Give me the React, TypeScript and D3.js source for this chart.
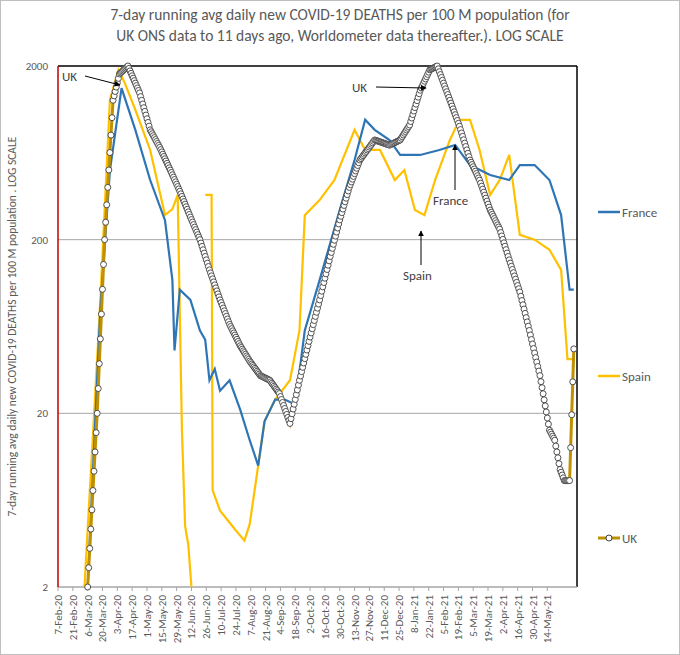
import * as d3 from "d3";

const startDate = new Date(2020, 1, 7);

// [day offset from 7-Feb-20, deaths per 100M]
const uk: [number, number][] = [
  [28, 2], [37, 20], [44, 200], [52, 1270], [58, 1800], [66, 2000], [77, 1400], [87, 858],
  [96, 680], [106, 503], [115, 380], [125, 270], [134, 200], [143, 134], [153, 90], [162, 65],
  [172, 49], [181, 40], [191, 33], [200, 31], [209, 26], [219, 17.5], [228, 31], [238, 55],
  [247, 90], [257, 160], [266, 260], [275, 400], [285, 575], [299, 750], [313, 700], [323, 750],
  [332, 915], [342, 1450], [351, 1900], [358, 2000], [370, 1270], [379, 900], [389, 575],
  [398, 440], [408, 296], [417, 230], [426, 153], [436, 100], [445, 60], [455, 33], [464, 16],
  [469, 14], [474, 9.5], [478, 8.2], [483, 8.2], [487, 47],
];

const france: [number, number][] = [
  [28, 2], [40, 80], [49, 500], [60, 1490], [73, 858], [87, 441], [101, 259], [108, 117],
  [110, 46], [115, 103], [125, 90], [134, 60], [139, 53], [143, 31], [148, 36], [153, 27],
  [162, 31], [172, 21], [181, 14], [189, 10], [195, 18], [205, 24], [214, 24], [224, 22.5],
  [233, 60], [247, 117], [266, 296], [280, 575], [290, 980], [299, 858], [313, 750], [323, 615],
  [342, 615], [360, 657], [375, 702], [389, 538], [408, 471], [426, 441], [436, 538], [450, 538],
  [464, 441], [475, 277], [483, 103], [487, 103],
];

const spain: [number, number | null][] = [
  [25, 2], [35, 25], [40, 90], [49, 1270], [57, 1900], [63, 1600], [73, 1120], [87, 657],
  [101, 277], [108, 300], [113, 362], [117, 16], [120, 4.5], [123, 3.5], [126, 2], [130, null],
  [139, 362], [145, 362], [146, 7.2], [153, 5.5], [167, 4.3], [176, 3.7], [181, 4.6], [189, 10],
  [195, 18], [205, 24], [219, 31], [228, 60], [233, 277], [247, 338], [261, 441], [280, 858],
  [290, 657], [304, 657], [318, 441], [327, 503], [337, 296], [346, 277], [356, 441], [370, 750],
  [379, 980], [389, 980], [398, 657], [408, 362], [417, 441], [426, 615], [436, 213], [450, 200],
  [464, 175], [475, 134], [481, 41], [487, 41],
];

const yTicks = [2, 20, 200, 2000];
const tickDays = d3.range(0, 463, 14);

const W = 680, H = 655;
const left = 58, right = 577, top = 66, bottom = 587;
const grey = "#595959";

export default function App() {
  const end = d3.timeDay.offset(startDate, 490);
  const x = d3.scaleTime().domain([startDate, end]).range([left, right]);
  const y = d3.scaleLog().domain([2, 2000]).range([bottom, top]).clamp(true);
  const X = (d: number) => x(d3.timeDay.offset(startDate, d));
  const fmt = d3.timeFormat("%-d-%b-%y");

  const line = d3.line<[number, number | null]>()
    .defined((d) => d[1] !== null)
    .x((d) => X(d[0]))
    .y((d) => y(d[1] as number));

  const ukPath = line(uk) || "";
  // one marker per day along the drawn UK line (visual only)
  const ukMarkers: [number, number][] = [];
  for (let i = 0; i < uk.length - 1; i++) {
    const [d0, v0] = uk[i];
    const [d1, v1] = uk[i + 1];
    const y0 = y(v0), y1 = y(v1);
    for (let d = d0; d < d1; d++) {
      const t = (d - d0) / (d1 - d0);
      ukMarkers.push([X(d), y0 + (y1 - y0) * t]);
    }
  }
  const last = uk[uk.length - 1];
  ukMarkers.push([X(last[0]), y(last[1])]);

  const legend = [
    { name: "France", y: 212, color: "#2E75B6" },
    { name: "Spain", y: 376, color: "#FFC000" },
  ];

  return (
    <svg width={W} height={H} style={{ position: "absolute", left: 0, top: 0 }} fontFamily="Calibri, Carlito, 'Liberation Sans', sans-serif">
      <defs>
        <marker id="arr" viewBox="0 0 10 10" refX="9" refY="5" markerWidth="6" markerHeight="6" orient="auto-start-reverse">
          <path d="M0,0 L10,5 L0,10 z" fill="#000" />
        </marker>
      </defs>
      <rect x={0.5} y={0.5} width={W - 1} height={H - 1} fill="#fff" stroke="#bfbfbf" />
      <text x={340} y={20} textAnchor="middle" fontSize={15.5} fill={grey}>
        7-day running avg daily new COVID-19 DEATHS per 100 M population (for
      </text>
      <text x={340} y={41} textAnchor="middle" fontSize={15.5} fill={grey}>
        UK ONS data to 11 days ago, Worldometer data thereafter.). LOG SCALE
      </text>

      {[20, 200].map((t) => (
        <line key={t} x1={left} x2={right} y1={y(t)} y2={y(t)} stroke="#a6a6a6" />
      ))}
      <line x1={left} x2={right} y1={top} y2={top} stroke="#000" strokeWidth={1.5} />
      <line x1={right} x2={right} y1={top} y2={bottom} stroke="#000" strokeWidth={1.5} />
      <line x1={left} x2={right} y1={bottom} y2={bottom} stroke="#a6a6a6" strokeWidth={1.5} />
      <line x1={left} x2={left} y1={top} y2={bottom} stroke="#c00000" strokeWidth={1.5} />

      {yTicks.map((t) => (
        <text key={t} x={left - 10} y={y(t) + 4} textAnchor="end" fontSize={11} fill={grey}>{t}</text>
      ))}
      <text transform={`translate(16,${(top + bottom) / 2}) rotate(-90)`} textAnchor="middle" fontSize={11.5} fill={grey}>
        7-day running avg daily new COVID-19 DEATHS per 100 M population . LOG SCALE
      </text>

      {tickDays.map((d) => (
        <g key={d}>
          <line x1={X(d)} x2={X(d)} y1={bottom} y2={bottom + 4} stroke="#a6a6a6" />
          <text transform={`translate(${X(d) + 4},${bottom + 8}) rotate(-90)`} textAnchor="end" fontSize={11} fill={grey}>
            {fmt(d3.timeDay.offset(startDate, d))}
          </text>
        </g>
      ))}

      <path d={line(spain) || ""} fill="none" stroke="#FFC000" strokeWidth={2.2} />
      <path d={line(france) || ""} fill="none" stroke="#2E75B6" strokeWidth={2.2} />
      <path d={ukPath} fill="none" stroke="#BF9000" strokeWidth={3} />
      {ukMarkers.map((p, i) => (
        <circle key={i} cx={p[0]} cy={p[1]} r={3} fill="#fff" stroke="#404040" strokeWidth={0.9} />
      ))}

      {/* annotations */}
      <text x={62} y={81} fontSize={13} fill="#404040">UK</text>
      <line x1={85} y1={76} x2={120} y2={85} stroke="#000" markerEnd="url(#arr)" />
      <text x={352} y={92} fontSize={13} fill="#404040">UK</text>
      <line x1={376} y1={87} x2={426} y2={88} stroke="#000" markerEnd="url(#arr)" />
      <text x={433} y={205} fontSize={13} fill="#404040">France</text>
      <line x1={455} y1={190} x2={455} y2={145} stroke="#000" markerEnd="url(#arr)" />
      <text x={403} y={280} fontSize={13} fill="#404040">Spain</text>
      <line x1={421} y1={265} x2={421} y2={231} stroke="#000" markerEnd="url(#arr)" />

      {legend.map((l) => (
        <g key={l.name}>
          <line x1={598} x2={620} y1={l.y} y2={l.y} stroke={l.color} strokeWidth={2.5} />
          <text x={622} y={l.y + 5} fontSize={13} fill={grey}>{l.name}</text>
        </g>
      ))}
      <line x1={598} x2={620} y1={538} y2={538} stroke="#BF9000" strokeWidth={3} />
      <circle cx={609} cy={538} r={3} fill="#fff" stroke="#404040" />
      <text x={622} y={543} fontSize={13} fill={grey}>UK</text>
    </svg>
  );
}
